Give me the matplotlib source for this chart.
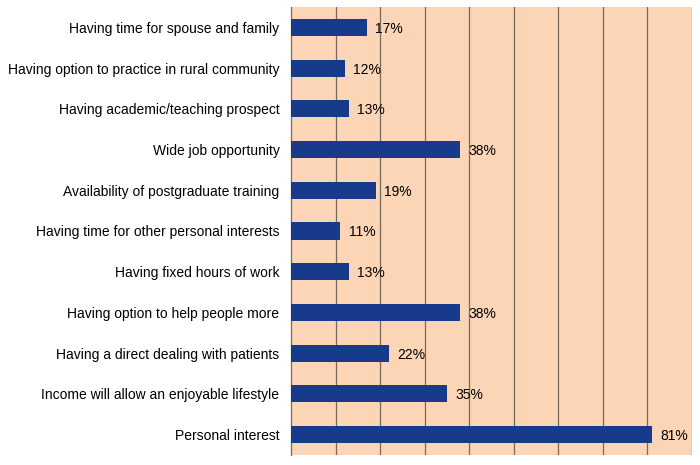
import matplotlib
matplotlib.use('Agg')
import matplotlib.pyplot as plt

plt.rcParams['font.family'] = ['Liberation Sans', 'DejaVu Sans']

# reasons, top to bottom as in the chart
reasons = ['Having time for spouse and family',
           'Having option to practice in rural community',
           'Having academic/teaching prospect',
           'Wide job opportunity',
           'Availability of postgraduate training',
           'Having time for other personal interests',
           'Having fixed hours of work',
           'Having option to help people more',
           'Having a direct dealing with patients',
           'Income will allow an enjoyable lifestyle',
           'Personal interest']
percent = [17, 12, 13, 38, 19, 11, 13, 38, 22, 35, 81]

fig = plt.figure(figsize=(7, 4.65), dpi=100)
ax = fig.add_axes([0.416, 0.0215, 0.5725, 0.9635])
ax.set_facecolor('#FBD5B5')

ypos = list(range(len(reasons)))
ax.barh(ypos, percent, height=0.42, color='#183A8A', zorder=3)

for y, v in zip(ypos, percent):
    ax.annotate('%d%%' % v, (v, y), xytext=(6, 0), textcoords='offset points',
                va='center_baseline', ha='left', fontsize=10, color='black')

ax.set_xlim(0, 90)
ax.set_ylim(len(reasons) - 0.5, -0.5)
ax.set_xticks(range(10, 91, 10))
ax.xaxis.grid(True, color='#7a6a5a', linewidth=0.9, zorder=1)
ax.tick_params(axis='x', length=0, labelbottom=False)
ax.tick_params(axis='y', length=0, pad=8.5)
ax.set_yticks(ypos)
ax.set_yticklabels(reasons, fontsize=10)

for s in ['top', 'right', 'bottom']:
    ax.spines[s].set_visible(False)
ax.spines['left'].set_color('#7a6a5a')
ax.spines['left'].set_linewidth(0.9)

fig.savefig('out.png', dpi=100)
